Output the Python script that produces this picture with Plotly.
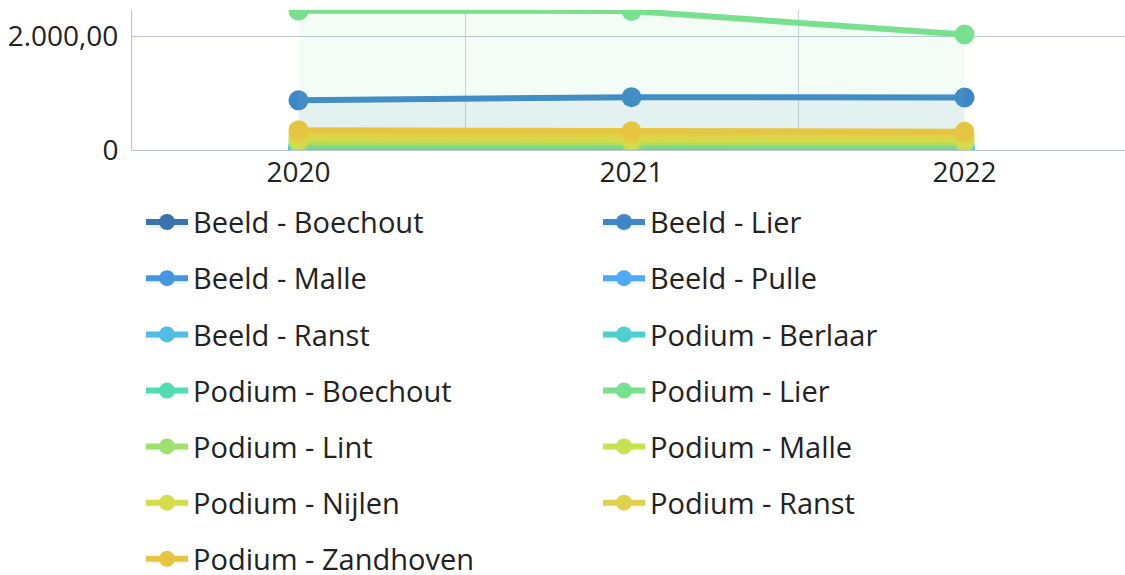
import plotly.graph_objects as go

years = ["2020", "2021", "2022"]

series_names = [
    "Beeld - Boechout", "Beeld - Lier", "Beeld - Malle", "Beeld - Pulle",
    "Beeld - Ranst", "Podium - Berlaar", "Podium - Boechout", "Podium - Lier",
    "Podium - Lint", "Podium - Malle", "Podium - Nijlen", "Podium - Ranst",
    "Podium - Zandhoven",
]

beeld_boechout = [15, 12, 14]
beeld_lier = [875, 930, 925]
beeld_malle = [25, 20, 22]
beeld_pulle = [35, 30, 28]
beeld_ranst = [50, 45, 48]
podium_berlaar = [70, 65, 60]
podium_boechout = [95, 90, 85]
podium_lier = [2452, 2450, 2035]
podium_lint = [140, 135, 130]
podium_malle = [185, 180, 175]
podium_nijlen = [230, 225, 215]
podium_ranst = [285, 275, 265]
podium_zandhoven = [350, 330, 320]

series_values = [
    beeld_boechout, beeld_lier, beeld_malle, beeld_pulle, beeld_ranst,
    podium_berlaar, podium_boechout, podium_lier, podium_lint, podium_malle,
    podium_nijlen, podium_ranst, podium_zandhoven,
]

colors = [
    "#3873ad", "#3d86c8", "#4797e0", "#4fa9f8", "#4fbde4", "#4ecece",
    "#50ddb2", "#78e08f", "#9de26c", "#c6e34f", "#d5dd4c", "#e1d14a",
    "#e6c540",
]

y_tickvals = [0, 2000]
y_ticktext = ["0", "2.000,00"]


def rgba(hex_color, a):
    h = hex_color.lstrip("#")
    r, g, b = int(h[0:2], 16), int(h[2:4], 16), int(h[4:6], 16)
    return f"rgba({r},{g},{b},{a})"


# ---- layout geometry (pixels) ----
W, H = 1125, 575
PLOT_L, PLOT_T, PLOT_B = 132, 9.5, 149.7
PLOT_H = PLOT_B - PLOT_T
ROW_STEP = 56.2
FIRST_ROW_CENTER = 223
LEG_FS = 29
TOP_TO_CENTER = 26.6
COL_X = [141, 598]
ROWS_PER_BLOCK = 4


def legend_y(row):
    top = FIRST_ROW_CENTER - TOP_TO_CENTER + row * ROW_STEP
    return -(top - PLOT_B) / PLOT_H


def legend_x(col):
    return (COL_X[col] - PLOT_L) / (W - PLOT_L)


fig = go.Figure()
legend_ids = {}
for i, (name, vals, col) in enumerate(zip(series_names, series_values, colors)):
    c, r = i % 2, i // 2
    block = r // ROWS_PER_BLOCK
    key = (c, block)
    if key not in legend_ids:
        n = len(legend_ids) + 1
        legend_ids[key] = "legend" if n == 1 else f"legend{n}"
    fig.add_trace(go.Scatter(
        x=years, y=vals, name=name, mode="lines+markers",
        line=dict(color=col, width=6),
        marker=dict(color=col, size=20),
        fill="tozeroy", fillcolor=rgba(col, 0.09),
        legendgroup=name,
        legend=legend_ids[key],
    ))

font_family = "Open Sans, Noto Sans, sans-serif"
fs = 28

legends = {}
for (c, block), lid in legend_ids.items():
    legends[lid] = dict(
        orientation="v", xanchor="left", yanchor="top",
        x=legend_x(c), y=legend_y(block * ROWS_PER_BLOCK),
        font=dict(family=font_family, size=LEG_FS, color="#222"),
        bgcolor="rgba(0,0,0,0)", tracegroupgap=15.5, itemwidth=42,
        traceorder="grouped",
    )

fig.update_layout(
    width=W, height=H,
    margin=dict(l=PLOT_L, r=0, t=PLOT_T, b=H - PLOT_B, autoexpand=False),
    paper_bgcolor="white", plot_bgcolor="white",
    font=dict(family=font_family, size=fs, color="#222"),
    showlegend=True,
    xaxis=dict(
        type="category", range=[-0.5, 2.482], tickson="boundaries",
        showgrid=True, gridcolor="#c8d3dc", gridwidth=1,
        showline=True, linecolor="#b9c4d8", linewidth=1,
        ticks="", ticklabelstandoff=-3,
        tickfont=dict(size=fs, color="#222"),
        zeroline=False, fixedrange=True,
    ),
    yaxis=dict(
        range=[0, 2466], tickmode="array", tickvals=y_tickvals, ticktext=y_ticktext,
        showgrid=True, gridcolor="#bcc7da", gridwidth=1,
        showline=True, linecolor="#b9c4d8", linewidth=1,
        ticks="", ticklabelstandoff=7,
        tickfont=dict(size=fs, color="#222"),
        zeroline=False, fixedrange=True,
    ),
    **legends,
)

fig.write_html(
    "out.html",
    config={"displayModeBar": False},
    post_script="document.body.style.margin='0';",
)
